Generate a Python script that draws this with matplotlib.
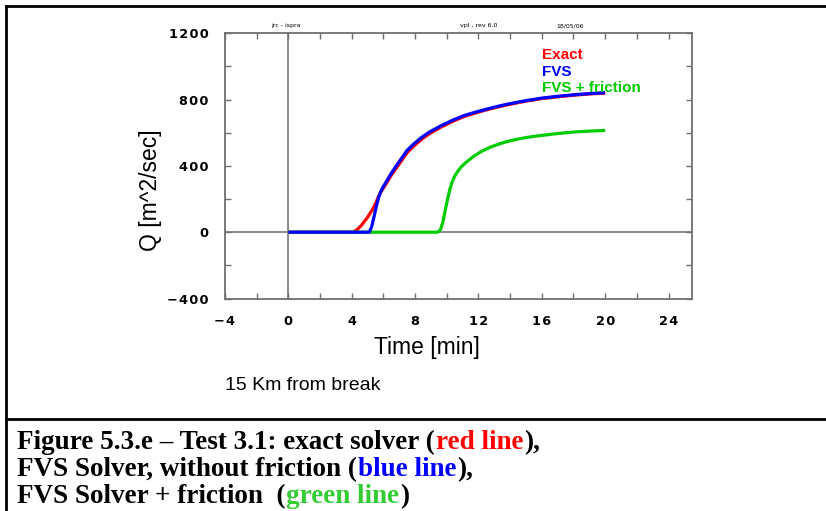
import matplotlib
matplotlib.use("Agg")
import matplotlib.pyplot as plt
from matplotlib.lines import Line2D
from matplotlib.ticker import FuncFormatter, MultipleLocator

# ---- data ----
t_exact = [0, 4.05, 4.3, 4.6, 5.0, 5.3, 5.5, 5.75, 6.0, 6.5, 7.0, 7.5, 7.9, 8.4, 8.9, 9.65,
           10.4, 11.1, 11.8, 12.5, 13.2, 13.9, 14.9, 16.0, 17.0, 18.1, 19.0, 20.0]
q_exact = [0, 0, 12, 40, 90, 135, 172, 228, 266, 344, 412, 480, 518, 560, 594, 635,
           670, 698, 719, 738, 755, 770, 789, 806, 817, 827, 834, 839]

t_fvs = [0, 5.1, 5.25, 5.4, 5.55, 5.7, 5.85, 6.0, 6.5, 7.0, 7.5, 7.9, 8.4, 8.9, 9.65,
         10.4, 11.1, 11.8, 12.5, 13.2, 13.9, 14.9, 16.0, 17.0, 18.1, 19.0, 20.0]
q_fvs = [0, 0, 30, 90, 155, 210, 250, 276, 356, 426, 494, 531, 571, 604, 643,
         677, 704, 724, 742, 759, 774, 792, 809, 820, 830, 836, 842]

t_fric = [0, 9.43, 9.6, 9.75, 9.9, 10.05, 10.2, 10.35, 10.5, 10.7, 10.9, 11.2, 11.7, 12.2,
          12.8, 13.3, 13.8, 14.5, 15.2, 15.9, 16.7, 17.4, 18.0, 19.0, 20.0]
q_fric = [0, 0, 15, 60, 130, 200, 260, 305, 338, 368, 393, 420, 458, 488,
          515, 532, 547, 562, 574, 583, 592, 599, 604, 610, 614]

series_names = ["Exact", "FVS", "FVS + friction"]
series_colors = ["#ff0000", "#0000ff", "#00cc00"]

x_ticks = [-4, 0, 4, 8, 12, 16, 20, 24]
y_ticks = [-400, 0, 400, 800, 1200]

W, H = 826, 511
fig = plt.figure(figsize=(W / 100, H / 100), dpi=100)

def fx(px):
    return px / W

def fy(py):
    return 1 - py / H

left, right, top, bottom = 225, 692.3, 33.3, 298.5
ax = fig.add_axes([fx(left), fy(bottom), fx(right - left), (bottom - top) / H])
ax.set_xlim(-4, 25.5)
ax.set_ylim(-400, 1200)

ax.axhline(0, color="#808080", lw=1.3, zorder=1)
ax.axvline(0, color="#808080", lw=1.3, zorder=1)

zorders = [3, 4, 3]
for t, q, c, z in zip([t_exact, t_fvs, t_fric], [q_exact, q_fvs, q_fric], series_colors, zorders):
    ax.plot(t, q, color=c, lw=2.3, solid_joinstyle="round", solid_capstyle="butt", zorder=z)

ax.set_xticks(x_ticks)
ax.set_yticks(y_ticks)
ax.xaxis.set_minor_locator(MultipleLocator(2))
ax.yaxis.set_minor_locator(MultipleLocator(200))

def spaced(v, pos):
    s = "%d" % v
    s = s.replace("-", "\u2212")
    return "\u200a".join(s)

ax.xaxis.set_major_formatter(FuncFormatter(spaced))
ax.yaxis.set_major_formatter(FuncFormatter(spaced))

ax.tick_params(which="both", direction="in", length=4.5, width=1, color="#707070",
               top=True, right=True)
ax.tick_params(axis="x", which="major", pad=12)
ax.tick_params(axis="y", which="major", pad=12)
for lab in ax.get_xticklabels() + ax.get_yticklabels():
    lab.set_fontfamily("DejaVu Sans")
    lab.set_fontweight("bold")
    lab.set_fontsize(9.3)
for sp in ax.spines.values():
    sp.set_color("#707070")
    sp.set_linewidth(1.3)

# legend texts
leg_y = [55, 72, 88]
for name, c, y in zip(series_names, series_colors, leg_y):
    fig.text(fx(542), fy(y), name, color=c, fontsize=11, fontweight="bold",
             family="Liberation Sans", va="center", ha="left")

# tiny header texts
fig.text(fx(286), fy(26), "jrc - ispra", fontsize=4.5, ha="center", va="center")
fig.text(fx(479), fy(26), "vpl , rev 6.0", fontsize=4.5, ha="center", va="center")
fig.text(fx(570), fy(26), "18/05/06", fontsize=4.5, ha="center", va="center")

# axis labels
fig.text(fx(150), fy(190), "Q [m^2/sec]", rotation=90, fontsize=16.5,
         family="Liberation Sans", ha="center", va="center")
fig.text(fx(427), fy(347), "Time [min]", fontsize=16.5,
         family="Liberation Sans", ha="center", va="center")
fig.text(fx(225), fy(386), "15 Km from break", fontsize=14,
         family="Liberation Sans", ha="left", va="center")

# borders
lw_b = 2.0
fig.add_artist(Line2D([fx(6), 1], [fy(6), fy(6)], color="black", lw=lw_b))
fig.add_artist(Line2D([fx(6), fx(6)], [fy(6), 0], color="black", lw=lw_b))
fig.add_artist(Line2D([fx(6), 1], [fy(419), fy(419)], color="black", lw=lw_b))

# caption
cap_lines = [
    [("Figure 5.3.e \u2013 Test 3.1: exact solver (", "black"), ("red line", "#ff0000"), ("),", "black")],
    [("FVS Solver, without friction (", "black"), ("blue line", "#0000ff"), ("),", "black")],
    [("FVS Solver + friction  (", "black"), ("green line", "#33cc33"), (")", "black")],
]
cap_base = [449, 476, 503]
fig.canvas.draw()
renderer = fig.canvas.get_renderer()
for segs, yb in zip(cap_lines, cap_base):
    x = 17.0
    for txt, col in segs:
        t = fig.text(fx(x), fy(yb), txt, color=col, fontsize=19.5, fontweight="bold",
                     family="Liberation Serif", va="baseline", ha="left")
        bb = t.get_window_extent(renderer)
        x = bb.x1 + 1

fig.savefig("out.png", dpi=100)
